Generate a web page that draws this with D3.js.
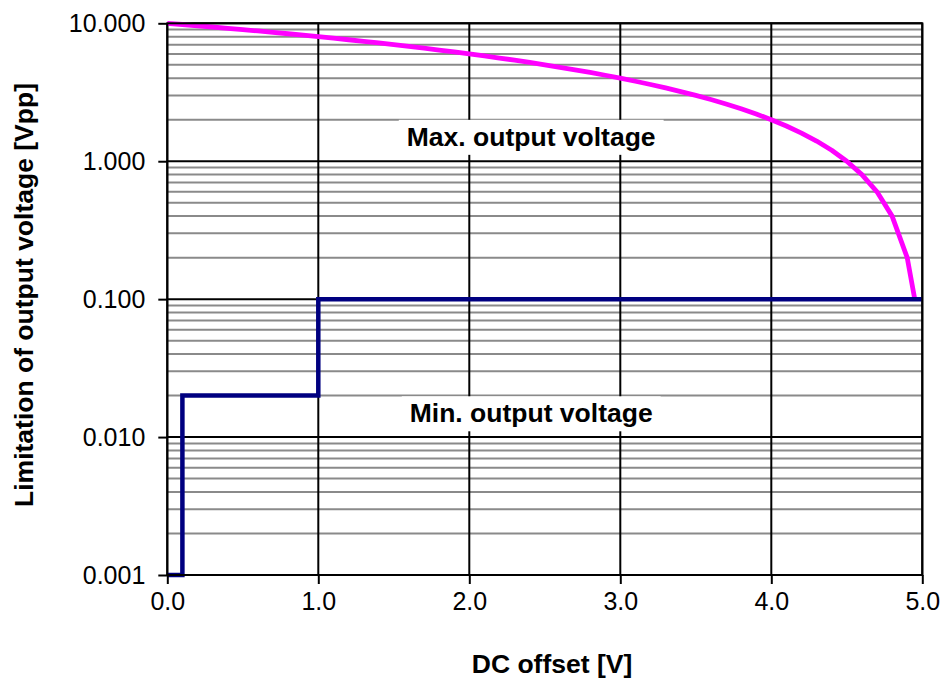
<!DOCTYPE html>
<html>
<head>
<meta charset="utf-8">
<script src="https://cdn.jsdelivr.net/npm/d3@7"></script>
<style>
  html, body { margin: 0; padding: 0; background: #fff; }
  svg { display: block; }
  text { font-family: "Liberation Sans", Arial, sans-serif; fill: #000; }
</style>
</head>
<body>
<svg id="chart" width="947" height="680"></svg>
<script>
// ---- data ----
const maxOffset = [0.0, 0.1, 0.2, 0.3, 0.4, 0.5, 0.6, 0.7, 0.8, 0.9, 1.0, 1.1, 1.2, 1.3, 1.4, 1.5, 1.6, 1.7, 1.8, 1.9, 2.0, 2.1, 2.2, 2.3, 2.4, 2.5, 2.6, 2.7, 2.8, 2.9, 3.0, 3.1, 3.2, 3.3, 3.4, 3.5, 3.6, 3.7, 3.8, 3.9, 4.0, 4.1, 4.2, 4.3, 4.4, 4.5, 4.6, 4.7, 4.8, 4.9, 4.95];
const maxVoltage = [10.0, 9.8, 9.6, 9.4, 9.2, 9.0, 8.8, 8.6, 8.4, 8.2, 8.0, 7.8, 7.6, 7.4, 7.2, 7.0, 6.8, 6.6, 6.4, 6.2, 6.0, 5.8, 5.6, 5.4, 5.2, 5.0, 4.8, 4.6, 4.4, 4.2, 4.0, 3.8, 3.6, 3.4, 3.2, 3.0, 2.8, 2.6, 2.4, 2.2, 2.0, 1.8, 1.6, 1.4, 1.2, 1.0, 0.8, 0.6, 0.4, 0.2, 0.1];
const minOffset = [0.0, 0.1, 1.0, 5.0];
const minVoltage = [0.001, 0.02, 0.1, 0.1];
const xTicks = [0, 1, 2, 3, 4, 5];
const yTicks = [0.001, 0.01, 0.1, 1, 10];
const labels = ["Max. output voltage", "Min. output voltage"];
const labelPos = [[2.41, 1.49], [2.41, 0.01475]]; // data coords of label centres
const xTitle = "DC offset [V]";
const yTitle = "Limitation of output voltage [Vpp]";

// ---- layout ----
const svg = d3.select("#chart");
const L = 167.3, R = 922.3, T = 23.3, B = 575;
const x = d3.scaleLinear().domain([0, 5]).range([L, R]);
const y = d3.scaleLog().domain([0.001, 10]).range([B, T]);

// minor horizontal grid
const minor = [];
[0.001, 0.01, 0.1, 1].forEach(d => { for (let k = 2; k <= 9; k++) minor.push(d * k); });
svg.append("g").selectAll("line").data(minor).join("line")
  .attr("x1", L).attr("x2", R)
  .attr("y1", d => y(d)).attr("y2", d => y(d))
  .attr("stroke", "#8a8a8a").attr("stroke-width", 2);

// major horizontal grid
svg.append("g").selectAll("line").data(yTicks).join("line")
  .attr("x1", L).attr("x2", R)
  .attr("y1", d => y(d)).attr("y2", d => y(d))
  .attr("stroke", "#000").attr("stroke-width", 2);

// vertical grid
svg.append("g").selectAll("line").data(xTicks).join("line")
  .attr("x1", d => x(d)).attr("x2", d => x(d))
  .attr("y1", T).attr("y2", B)
  .attr("stroke", "#000").attr("stroke-width", 2);

// labels with white boxes
const lg = svg.append("g");
labels.forEach((t, i) => {
  const cx = x(labelPos[i][0]), cy = y(labelPos[i][1]);
  const txt = lg.append("text").attr("x", cx).attr("y", cy + 8.5)
    .attr("text-anchor", "middle").attr("font-weight", "bold")
    .attr("font-size", 26.5).text(t);
  const bb = txt.node().getBBox();
  lg.insert("rect", "text").attr("x", bb.x - 8).attr("y", cy - 17.5)
    .attr("width", bb.width + 16).attr("height", 35).attr("fill", "#fff");
});

// series
const lineGen = d3.line().x(d => x(d[0])).y(d => y(d[1]));
svg.append("path")
  .datum(maxOffset.map((d, i) => [d, maxVoltage[i]]))
  .attr("d", lineGen)
  .attr("fill", "none").attr("stroke", "#ff00ff").attr("stroke-width", 4.8)
  .attr("stroke-linejoin", "round");
svg.append("path")
  .datum(minOffset.map((d, i) => [d, minVoltage[i]]))
  .attr("d", lineGen.curve(d3.curveStepAfter))
  .attr("fill", "none").attr("stroke", "#000080").attr("stroke-width", 4.5);

// frame
svg.append("rect").attr("x", L).attr("y", T).attr("width", R - L).attr("height", B - T)
  .attr("fill", "none").attr("stroke", "#000").attr("stroke-width", 2);

// axes
const xAxis = d3.axisBottom(x).tickValues(xTicks).tickFormat(d3.format(".1f")).tickSize(9).tickPadding(8);
const gx = svg.append("g").attr("transform", `translate(0,${B})`).call(xAxis);
gx.select(".domain").remove();
gx.selectAll(".tick line").attr("stroke", "#000").attr("stroke-width", 2);
gx.selectAll(".tick text").attr("font-size", 25).attr("font-family", "Liberation Sans, Arial, sans-serif").attr("fill", "#000");

const yAxis = d3.axisLeft(y).tickValues(yTicks).tickFormat(d3.format(".3f")).tickSize(9).tickPadding(13);
const gy = svg.append("g").attr("transform", `translate(${L},0)`).call(yAxis);
gy.select(".domain").remove();
gy.selectAll(".tick line").attr("stroke", "#000").attr("stroke-width", 2);
gy.selectAll(".tick text").attr("font-size", 25).attr("font-family", "Liberation Sans, Arial, sans-serif").attr("fill", "#000");

// titles
svg.append("text").attr("x", 552).attr("y", 673).attr("text-anchor", "middle")
  .attr("font-weight", "bold").attr("font-size", 26.5).text(xTitle);
svg.append("text").attr("transform", "translate(33,295) rotate(-90)").attr("text-anchor", "middle")
  .attr("font-weight", "bold").attr("font-size", 26.5).text(yTitle);
</script>
</body>
</html>
